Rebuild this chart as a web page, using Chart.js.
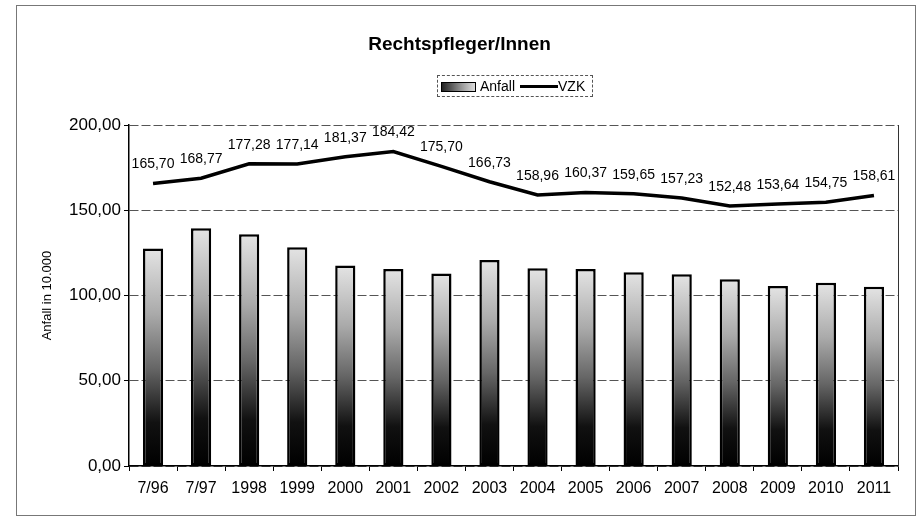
<!DOCTYPE html>
<html>
<head>
<meta charset="utf-8">
<script src="https://cdn.jsdelivr.net/npm/chart.js@4.4.1/dist/chart.umd.min.js"></script>
<style>
  html, body { margin: 0; padding: 0; background: #fff; }
  #wrap { position: relative; width: 919px; height: 527px; font-family: "Liberation Sans", Arial, sans-serif; }
  #frame { position: absolute; left: 16px; top: 5px; width: 900px; height: 511px; border: 1px solid #777; box-sizing: border-box; }
  #title { position: absolute; left: 0; width: 919px; top: 33px; text-align: center; font-weight: bold; font-size: 19px; color: #000; }
  #legend { position: absolute; left: 437px; top: 75px; width: 156px; height: 22px; border: 1px dashed #555; box-sizing: border-box; font-size: 14px; color: #000; }
  #legend .sw { position: absolute; left: 3px; top: 6px; width: 33px; height: 8px; border: 1px solid #000; background: linear-gradient(to right, #222, #999 60%, #ddd); }
  #legend .t1 { position: absolute; left: 42px; top: 2px; }
  #legend .ln { position: absolute; left: 82px; top: 9px; width: 38px; height: 3px; background: #000; }
  #legend .t2 { position: absolute; left: 120px; top: 2px; }
  canvas { position: absolute; left: 0; top: 0; }
</style>
</head>
<body>
<div id="wrap">
  <div id="frame"></div>
  <canvas id="myChart" width="919" height="527"></canvas>
  <div id="title">Rechtspfleger/Innen</div>
  <div id="legend"><div class="sw"></div><span class="t1">Anfall</span><div class="ln"></div><span class="t2">VZK</span></div>
</div>
<script>
// chart data
const labels = ['7/96', '7/97', '1998', '1999', '2000', '2001', '2002', '2003', '2004', '2005', '2006', '2007', '2008', '2009', '2010', '2011'];
const anfall = [127.5, 139.4, 135.9, 128.3, 117.6, 115.5, 112.9, 120.8, 116.0, 115.5, 113.7, 112.4, 109.6, 105.5, 107.5, 105.1];
const vzk = [165.70, 168.77, 177.28, 177.14, 181.37, 184.42, 175.70, 166.73, 158.96, 160.37, 159.65, 157.23, 152.48, 153.64, 154.75, 158.61];
const yTicks = [0, 50, 100, 150, 200];

const fmt = v => v.toFixed(2).replace('.', ',');

function barFill(ctx) {
    const chart = ctx.chart;
    if (!chart.chartArea || ctx.parsed === undefined) return '#888';
    const y = chart.scales.y;
    const bottom = y.getPixelForValue(0);
    const top = y.getPixelForValue(ctx.parsed.y);
    const g = chart.ctx.createLinearGradient(0, bottom, 0, top);
    g.addColorStop(0, '#000');
    g.addColorStop(0.2, '#111');
    g.addColorStop(0.45, '#666');
    g.addColorStop(0.7, '#aaa');
    g.addColorStop(1, '#e4e4e4');
    return g;
}

const extras = {
    id: 'extras',
    afterDatasetsDraw(chart) {
        const ctx = chart.ctx;
        const area = chart.chartArea;
        ctx.save();
        // right border of plot area
        ctx.strokeStyle = '#333';
        ctx.lineWidth = 1;
        ctx.beginPath();
        ctx.moveTo(area.right + 0.5, area.top);
        ctx.lineTo(area.right + 0.5, area.bottom);
        ctx.stroke();
        // value labels on the VZK line
        const meta = chart.getDatasetMeta(0);
        ctx.fillStyle = '#000';
        ctx.font = '14px "Liberation Sans", Arial, sans-serif';
        ctx.textAlign = 'center';
        ctx.textBaseline = 'bottom';
        meta.data.forEach((pt, i) => {
            ctx.fillText(fmt(vzk[i]), pt.x, pt.y - 12);
        });
        ctx.restore();
    }
};

new Chart(document.getElementById('myChart'), {
    data: {
        labels: labels,
        datasets: [{
            type: 'line',
            label: 'VZK',
            data: vzk,
            borderColor: '#000',
            borderWidth: 3.5,
            pointRadius: 0,
            tension: 0,
            order: 0
        }, {
            type: 'bar',
            label: 'Anfall',
            data: anfall,
            backgroundColor: barFill,
            borderColor: '#000',
            borderWidth: 2.5,
            borderSkipped: false,
            categoryPercentage: 1,
            barPercentage: 0.42,
            order: 1
        }]
    },
    options: {
        responsive: false,
        animation: false,
        layout: { padding: { left: 40, right: 21, top: 125, bottom: 0 } },
        plugins: {
            legend: { display: false },
            title: { display: false },
            tooltip: { enabled: false }
        },
        scales: {
            x: {
                offset: true,
                grid: { drawOnChartArea: false, drawTicks: true, tickLength: 5, color: '#000', offset: true },
                border: { color: '#000', width: 1.5 },
                ticks: { color: '#000', padding: 8, font: { size: 16, family: '"Liberation Sans", Arial, sans-serif' } },
                afterFit(scale) { scale.height = 61; }
            },
            y: {
                min: 0,
                max: 200,
                afterBuildTicks(scale) { scale.ticks = yTicks.map(v => ({ value: v })); },
                grid: { color: '#555', tickLength: 5, tickColor: '#000' },
                border: { color: '#000', width: 1.5, dash: [9, 3] },
                ticks: { color: '#000', padding: 3, callback: v => fmt(v), font: { size: 17, family: '"Liberation Sans", Arial, sans-serif' } },
                title: { display: true, text: 'Anfall in 10.000', color: '#000', font: { size: 13, family: '"Liberation Sans", Arial, sans-serif' }, padding: 0 },
                afterFit(scale) { scale.width = 89; }
            }
        }
    },
    plugins: [extras]
});
</script>
</body>
</html>
